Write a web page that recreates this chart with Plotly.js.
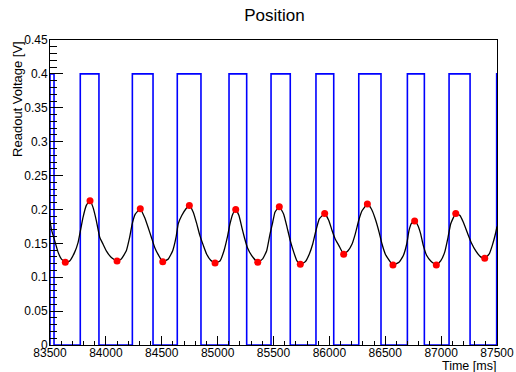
<!DOCTYPE html>
<html>
<head>
<meta charset="utf-8">
<script src="https://cdn.plot.ly/plotly-3.0.1.min.js"></script>
<style>html,body{margin:0;padding:0;background:#fff;}#chart{width:516px;height:372px;}</style>
</head>
<body>
<div id="chart"></div>
<script>
// Readout voltage trace (black line)
const curveTime = [83500,83512,83542,83572,83601,83637,83676,83721,83751,83775,83795,83825,83858,83885,83914,83945,83974,84004,84049,84100,84138,84183,84213,84236,84263,84308,84347,84377,84407,84437,84466,84509,84559,84598,84628,84648,84679,84717,84747,84782,84813,84842,84872,84902,84938,84977,85021,85057,85087,85111,85135,85162,85191,85216,85239,85266,85305,85359,85403,85439,85469,85493,85513,85552,85591,85621,85650,85681,85710,85740,85785,85820,85851,85880,85910,85958,85994,86024,86053,86084,86128,86167,86203,86232,86263,86292,86340,86375,86411,86441,86471,86501,86519,86569,86623,86662,86692,86713,86733,86763,86793,86817,86840,86871,86907,86957,86996,87032,87062,87086,87131,87169,87199,87234,87270,87310,87354,87390,87429,87458,87489,87500];
const curveVolt = [0.184,0.171,0.154,0.137,0.127,0.122,0.124,0.137,0.151,0.171,0.188,0.206,0.213,0.203,0.184,0.159,0.149,0.139,0.129,0.124,0.127,0.139,0.159,0.179,0.193,0.201,0.188,0.174,0.159,0.144,0.134,0.123,0.127,0.139,0.159,0.179,0.191,0.201,0.206,0.196,0.179,0.161,0.147,0.134,0.125,0.121,0.124,0.139,0.159,0.179,0.193,0.200,0.191,0.174,0.159,0.144,0.132,0.122,0.127,0.139,0.164,0.181,0.196,0.204,0.193,0.174,0.154,0.137,0.124,0.119,0.123,0.134,0.149,0.169,0.186,0.194,0.184,0.169,0.156,0.147,0.134,0.139,0.149,0.164,0.184,0.198,0.208,0.201,0.186,0.169,0.149,0.134,0.129,0.118,0.122,0.132,0.149,0.169,0.179,0.183,0.176,0.164,0.147,0.132,0.124,0.118,0.124,0.137,0.159,0.179,0.194,0.191,0.181,0.166,0.151,0.139,0.130,0.128,0.134,0.147,0.166,0.175];

// Extrema (red markers)
const peakTime = [83637,83858,84100,84308,84509,84747,84977,85162,85359,85552,85740,85958,86128,86340,86569,86763,86957,87131,87390];
const peakVolt = [0.122,0.213,0.124,0.201,0.123,0.206,0.121,0.200,0.122,0.204,0.119,0.194,0.134,0.208,0.118,0.183,0.118,0.194,0.128];

// Square wave (blue) pulse edges
const pulseRise = [83500,83771,84237,84639,85102,85478,85880,86263,86698,87071,87497];
const pulseFall = [83536,83938,84422,84851,85260,85650,86039,86462,86850,87259,87530];
const pulseLow = 0;
const pulseHigh = 0.4;

const sqX = [], sqY = [];
for (let i = 0; i < pulseRise.length; i++) {
  sqX.push(pulseRise[i], pulseRise[i], pulseFall[i], pulseFall[i]);
  sqY.push(pulseLow, pulseHigh, pulseHigh, pulseLow);
}

const FONT = 'Arial, "Liberation Sans", Helvetica, sans-serif';

const traces = [
  {x: sqX, y: sqY, mode: 'lines', line: {color: '#0000ff', width: 1.6}, hoverinfo: 'skip'},
  {x: curveTime, y: curveVolt, mode: 'lines', line: {color: '#000000', width: 1.3, shape: 'spline', smoothing: 0.4}},
  {x: peakTime, y: peakVolt, mode: 'markers', marker: {color: '#ff0000', size: 7}}
];

const layout = {
  width: 516, height: 372,
  margin: {l: 50, r: 19, t: 40, b: 27, pad: 0},
  paper_bgcolor: '#fff', plot_bgcolor: '#fff',
  showlegend: false,
  font: {family: FONT, size: 12, color: '#000'},
  title: {text: 'Position', font: {family: FONT, size: 17, color: '#000'}, x: 0.532, xanchor: 'center', y: 0.96, yanchor: 'middle'},
  xaxis: {
    range: [83500, 87500], dtick: 500, tick0: 83500, tickformat: 'd',
    ticks: 'inside', ticklen: 9, tickwidth: 1, tickcolor: '#000',
    minor: {dtick: 100, ticks: 'inside', ticklen: 4.5, tickcolor: '#000'},
    showline: true, linecolor: '#000', linewidth: 1, mirror: true,
    showgrid: false, zeroline: false, ticklabelstandoff: -3,
    tickfont: {family: FONT, size: 12, color: '#000'}
  },
  yaxis: {
    range: [0, 0.45], dtick: 0.05, tick0: 0,
    ticks: 'inside', ticklen: 13, tickwidth: 1, tickcolor: '#000',
    minor: {dtick: 0.01, ticks: 'inside', ticklen: 6.5, tickcolor: '#000'},
    showline: true, linecolor: '#000', linewidth: 1, mirror: true,
    showgrid: false, zeroline: false, ticklabelstandoff: -1,
    tickfont: {family: FONT, size: 12, color: '#000'}
  },
  annotations: [
    {text: 'Time [ms]', xref: 'paper', yref: 'paper', x: 1, xanchor: 'right', y: -0.069, yanchor: 'middle', borderpad: 0, showarrow: false, font: {family: FONT, size: 12.5, color: '#000'}},
    {text: 'Readout Voltage [V]', textangle: -90, xref: 'paper', yref: 'paper', x: -0.074, xanchor: 'center', y: 1, yanchor: 'top', borderpad: 0, showarrow: false, font: {family: FONT, size: 13, color: '#000'}}
  ]
};

Plotly.newPlot('chart', traces, layout, {staticPlot: true});
</script>
</body>
</html>
